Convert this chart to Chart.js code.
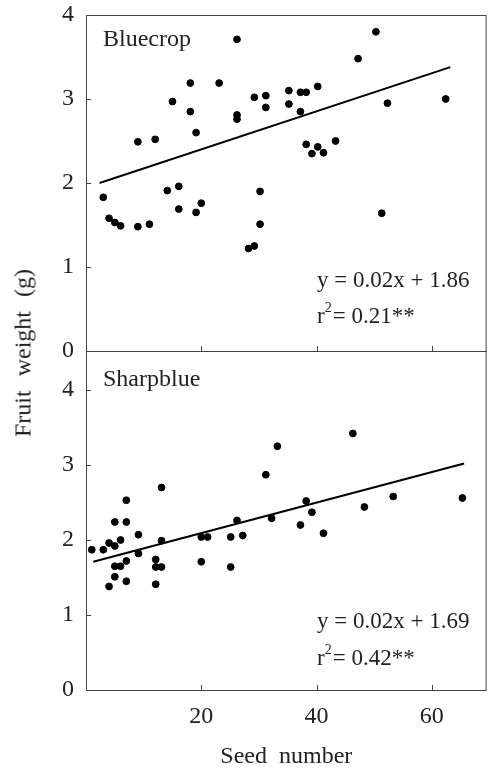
<!DOCTYPE html>
<html lang="en">
<head>
<meta charset="UTF-8">
<title>Fruit weight x Seed number</title>
<script src="https://cdn.jsdelivr.net/npm/chart.js@4.4.0/dist/chart.umd.min.js"></script>
<style>
  body { margin: 0; background: #fff; overflow: hidden; }
  canvas { position: absolute; left: 0; }
  #topo { top: 0; }
  #baixo { top: 330px; }
  #titulo-y {
    position: absolute; left: 23px; top: 353px;
    transform: translate(-50%, -50%) rotate(-90deg);
    font: 24px "Liberation Serif", serif; color: #222;
    white-space: nowrap; word-spacing: 8px;
  }
</style>
</head>
<body>

<canvas id="topo" width="491" height="370"></canvas>
<canvas id="baixo" width="491" height="446"></canvas>
<div id="titulo-y">Fruit weight (g)</div>

<script>
  // Bluecrop
  var blueSeeds = [3, 4, 5, 6, 9, 9, 11, 12, 14.1, 15, 16.1, 16.1, 18.1, 18.1, 19.1, 19.1, 20, 23.1, 26.2, 26.2, 26.2,
    28.2, 29.2, 29.2, 30.2, 30.2, 31.2, 31.2, 35.2, 35.2, 37.2, 38.2, 37.2, 38.2, 39.2, 40.2, 40.2, 41.2, 43.3,
    47.2, 50.3, 51.3, 52.3, 62.4];
  var blueWeight = [1.83, 1.58, 1.53, 1.49, 2.49, 1.48, 1.51, 2.52, 1.91, 2.97, 1.96, 1.69, 3.19, 2.85, 2.60, 1.65, 1.76, 3.19, 3.71, 2.81, 2.76,
    1.22, 1.25, 3.02, 1.90, 1.51, 3.04, 2.90, 3.10, 2.94, 3.08, 3.08, 2.85, 2.46, 2.35, 3.15, 2.43, 2.36, 2.50,
    3.48, 3.80, 1.64, 2.95, 3.00];
  var blueFitX = [2.35, 63.2];
  var blueFitY = [2.0, 3.38];

  // Sharpblue
  var sharpSeeds = [1, 3, 4, 5, 5, 6, 7, 7, 9.1, 9.1, 7, 5, 6, 5, 4, 7, 12.1, 12.1, 13.1, 12.1, 13.1, 13.1,
    20, 21.1, 20, 25.1, 25.1, 26.2, 27.2, 31.2, 32.2, 33.2, 37.2, 38.2, 39.2, 41.2, 46.3, 48.3, 53.3, 65.3];
  var sharpWeight = [1.87, 1.87, 1.96, 1.92, 2.24, 2.00, 2.53, 2.24, 2.07, 1.82, 1.72, 1.65, 1.65, 1.51, 1.38, 1.45, 1.74, 1.64, 1.64, 1.41, 1.99, 2.70,
    2.04, 2.04, 1.71, 2.04, 1.64, 2.26, 2.06, 2.87, 2.29, 3.25, 2.20, 2.52, 2.37, 2.09, 3.42, 2.44, 2.58, 2.56];
  var sharpFitX = [1.26, 65.6];
  var sharpFitY = [1.71, 3.02];

  var xTicks = [20, 40, 60];
  var yTicks = [0, 1, 2, 3, 4];

  var fonte = '"Liberation Serif", serif';
  var corTexto = '#222';

  function pares(xs, ys) {
    return xs.map(function (v, i) { return { x: v, y: ys[i] }; });
  }

  // moldura, ticks para dentro e textos do painel
  var moldura = {
    id: 'moldura',
    afterDraw: function (chart, args, o) {
      var ctx = chart.ctx, a = chart.chartArea;
      var sx = chart.scales.x, sy = chart.scales.y;
      ctx.save();
      ctx.strokeStyle = '#444';
      ctx.lineWidth = 1;
      ctx.strokeRect(a.left + 0.5, a.top + 0.5, a.right - a.left - 1, a.bottom - a.top);
      ctx.beginPath();
      xTicks.forEach(function (v) {
        var px = Math.round(sx.getPixelForValue(v)) + 0.5;
        ctx.moveTo(px, a.bottom); ctx.lineTo(px, a.bottom - 5);
      });
      yTicks.forEach(function (v) {
        var py = Math.round(sy.getPixelForValue(v)) + 0.5;
        ctx.moveTo(a.left, py); ctx.lineTo(a.left + 5, py);
      });
      ctx.stroke();

      ctx.fillStyle = corTexto;
      ctx.textBaseline = 'alphabetic';
      ctx.font = '24px ' + fonte;
      ctx.fillText(o.nome, a.left + 17, a.top + o.nomeY);

      ctx.font = '23px ' + fonte;
      var ex = a.left + 231;
      ctx.fillText(o.eq, ex, a.bottom - o.eqY);
      var by = a.bottom - o.r2Y;
      ctx.fillText('r', ex, by);
      var w = ctx.measureText('r').width;
      ctx.font = '14px ' + fonte;
      ctx.fillText('2', ex + w, by - 11);
      var w2 = ctx.measureText('2').width;
      ctx.font = '23px ' + fonte;
      ctx.fillText('= ' + o.r2, ex + w + w2 + 1, by);
      ctx.restore();
    }
  };

  function painel(id, xs, ys, fx, fy, ymax, comEixoX, textos, pad) {
    return new Chart(document.getElementById(id), {
      type: 'scatter',
      data: {
        datasets: [{
          data: pares(xs, ys),
          backgroundColor: '#000',
          borderColor: '#000',
          pointRadius: 3.4,
          pointHoverRadius: 3.4
        }, {
          data: pares(fx, fy),
          showLine: true,
          borderColor: '#000',
          borderWidth: 2,
          pointRadius: 0
        }]
      },
      options: {
        responsive: false,
        animation: false,
        layout: { padding: pad },
        plugins: {
          legend: { display: false },
          tooltip: { enabled: false },
          moldura: textos
        },
        scales: {
          x: {
            type: 'linear', min: 0, max: 69.5,
            display: comEixoX,
            grid: { display: false, drawTicks: false },
            border: { display: false },
            ticks: { stepSize: 20, padding: 12, color: corTexto, font: { family: fonte, size: 24 } },
            afterBuildTicks: function (s) {
              s.ticks = xTicks.map(function (v) { return { value: v }; });
            },
            afterFit: function (s) {
              s.height = comEixoX ? 86 : 0;
              s.paddingLeft = 0;
              s.paddingRight = 0;
            },
            title: {
              display: true, text: 'Seed  number', color: corTexto,
              font: { family: fonte, size: 24 }, padding: { top: 0, bottom: 5 }
            }
          },
          y: {
            type: 'linear', min: 0, max: ymax,
            grid: { display: false, drawTicks: false },
            border: { display: false },
            ticks: { stepSize: 1, padding: 12, color: corTexto, font: { family: fonte, size: 24 } },
            afterBuildTicks: function (s) {
              s.ticks = yTicks.map(function (v) { return { value: v }; });
            },
            afterFit: function (s) {
              s.width = 86;
              s.paddingTop = 0;
              s.paddingBottom = 0;
            }
          }
        }
      },
      plugins: [moldura]
    });
  }

  painel('topo', blueSeeds, blueWeight, blueFitX, blueFitY, 4, false,
    { nome: 'Bluecrop', eq: 'y = 0.02x + 1.86', r2: '0.21**', nomeY: 31, eqY: 64, r2Y: 28 },
    { top: 15, right: 1, bottom: 19, left: 0 });

  painel('baixo', sharpSeeds, sharpWeight, sharpFitX, sharpFitY, 4.52, true,
    { nome: 'Sharpblue', eq: 'y = 0.02x + 1.69', r2: '0.42**', nomeY: 35, eqY: 62, r2Y: 25 },
    { top: 21, right: 1, bottom: 0, left: 0 });
</script>

</body>
</html>
